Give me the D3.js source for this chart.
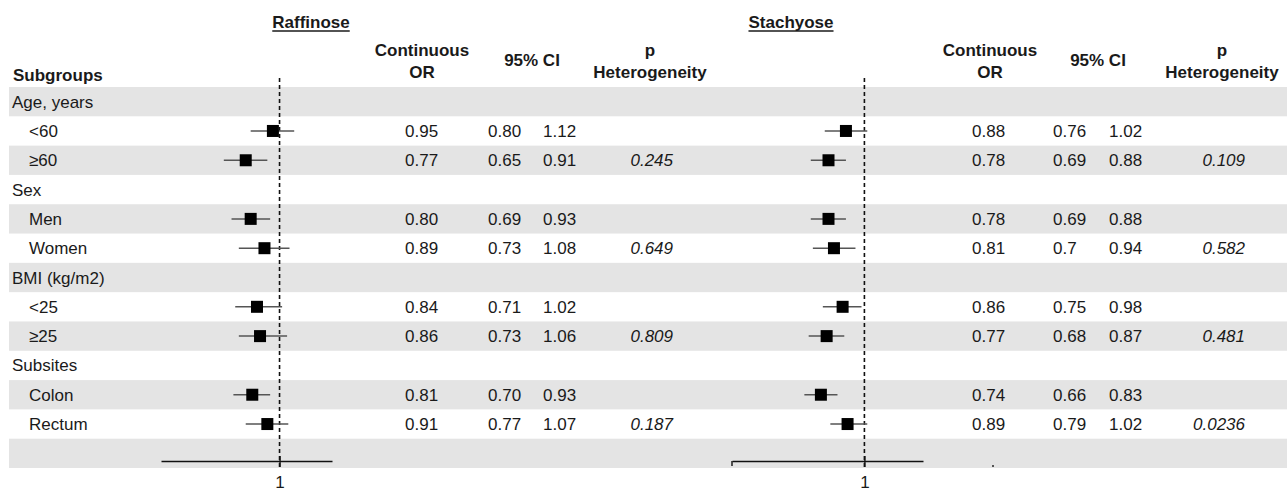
<!DOCTYPE html>
<html>
<head>
<meta charset="utf-8">
<script src="https://cdn.jsdelivr.net/npm/d3@7"></script>
<style>
  html, body { margin: 0; padding: 0; background: #fff; }
  svg text { font-family: "Liberation Sans", Arial, sans-serif; fill: #1a1a1a; }
</style>
</head>
<body>
<svg id="chart" width="1287" height="492"></svg>
<script>
// ---------- data ----------
const rowLabels = ["Age, years", "<60", "\u226560", "Sex", "Men", "Women", "BMI (kg/m2)", "<25", "\u226525", "Subsites", "Colon", "Rectum", ""];
const rowIsGroup = [true, false, false, true, false, false, true, false, false, true, false, false, false];
const subgroupRows = [1, 2, 4, 5, 7, 8, 10, 11];

const panels = ["Raffinose", "Stachyose"];

const raffOR = ["0.95", "0.77", "0.80", "0.89", "0.84", "0.86", "0.81", "0.91"];
const raffLo = ["0.80", "0.65", "0.69", "0.73", "0.71", "0.73", "0.70", "0.77"];
const raffHi = ["1.12", "0.91", "0.93", "1.08", "1.02", "1.06", "0.93", "1.07"];
const raffP  = ["", "0.245", "", "0.649", "", "0.809", "", "0.187"];

const stachOR = ["0.88", "0.78", "0.78", "0.81", "0.86", "0.77", "0.74", "0.89"];
const stachLo = ["0.76", "0.69", "0.69", "0.7", "0.75", "0.68", "0.66", "0.79"];
const stachHi = ["1.02", "0.88", "0.88", "0.94", "0.98", "0.87", "0.83", "1.02"];
const stachP  = ["", "0.109", "", "0.582", "", "0.481", "", "0.0236"];

const axisDomain = [0.4, 1.5];
const refValue = 1;
const tickValues = [1];

// ---------- layout ----------
const W = 1287, H = 492;
const svg = d3.select("#chart");
const fontSize = 17;

const y = d3.scaleBand().domain(d3.range(rowLabels.length)).range([87, 468]);
const yc = i => y(i) + y.bandwidth() / 2;

// shaded bands (even rows)
svg.append("g").selectAll("rect")
  .data(d3.range(rowLabels.length).filter(i => i % 2 === 0))
  .join("rect")
  .attr("x", 9).attr("width", W - 9)
  .attr("y", i => y(i)).attr("height", y.bandwidth())
  .attr("fill", "#e4e4e4");

// row labels
svg.append("g").selectAll("text")
  .data(rowLabels.map((t, i) => ({ t, i })))
  .join("text")
  .attr("x", d => rowIsGroup[d.i] ? 12 : 29)
  .attr("y", d => yc(d.i) + 6)
  .attr("font-size", fontSize)
  .text(d => d.t);

svg.append("text").attr("x", 13).attr("y", 81)
  .attr("font-size", fontSize).attr("font-weight", "bold").text("Subgroups");

const panelCfg = [
  { name: panels[0], or: raffOR, lo: raffLo, hi: raffHi, p: raffP,
    range: [161, 332], titleX: 311,
    orX: 405, loX: 488, hiX: 543, pX: 673,
    hOR: 422, hCI: 532, hP: 650, leftTick: false },
  { name: panels[1], or: stachOR, lo: stachLo, hi: stachHi, p: stachP,
    range: [732, 923], titleX: 791,
    orX: 972, loX: 1053, hiX: 1109, pX: 1245,
    hOR: 990, hCI: 1098, hP: 1222, leftTick: true }
];

panelCfg.forEach(cfg => {
  const g = svg.append("g");
  const x = d3.scaleLog().domain(axisDomain).range(cfg.range);

  // title underlined
  const title = g.append("text").attr("x", cfg.titleX).attr("y", 28)
    .attr("text-anchor", "middle").attr("font-size", fontSize).attr("font-weight", "bold")
    .text(cfg.name);
  const tw = title.node().getComputedTextLength();
  g.append("line").attr("x1", cfg.titleX - tw / 2).attr("x2", cfg.titleX + tw / 2)
    .attr("y1", 31).attr("y2", 31).attr("stroke", "#1a1a1a").attr("stroke-width", 1.3);

  // column headers
  const hdr = (tx, ty, s) => g.append("text").attr("x", tx).attr("y", ty)
    .attr("text-anchor", "middle").attr("font-size", fontSize).attr("font-weight", "bold").text(s);
  hdr(cfg.hOR, 56, "Continuous");
  hdr(cfg.hOR, 78, "OR");
  hdr(cfg.hCI, 66, "95% CI");
  hdr(cfg.hP, 56, "p");
  hdr(cfg.hP, 78, "Heterogeneity");

  // reference dashed line
  g.append("line")
    .attr("x1", x(refValue)).attr("x2", x(refValue))
    .attr("y1", 78).attr("y2", 468)
    .attr("stroke", "#111").attr("stroke-width", 1.6).attr("stroke-dasharray", "4,3");

  // axis
  const axisY = 461;
  const axis = d3.axisBottom(x).tickValues(tickValues).tickFormat(d3.format("d"))
    .tickSizeOuter(0).tickSizeInner(6).tickPadding(9);
  const ag = g.append("g").attr("transform", `translate(0,${axisY})`).call(axis);
  ag.select(".domain").attr("stroke", "#111").attr("stroke-width", 1.6);
  ag.selectAll(".tick line").attr("y1", -5).attr("y2", 6).attr("stroke", "#111").attr("stroke-width", 1.4);
  ag.selectAll(".tick text").attr("font-size", fontSize)
    .attr("font-family", "Liberation Sans, Arial, sans-serif").attr("fill", "#1a1a1a");
  if (cfg.leftTick) {
    g.append("line").attr("x1", x(axisDomain[0])).attr("x2", x(axisDomain[0]))
      .attr("y1", axisY).attr("y2", axisY + 5).attr("stroke", "#111").attr("stroke-width", 1.4);
    g.append("rect").attr("x", 992).attr("y", 465).attr("width", 2).attr("height", 2).attr("fill", "#555");
  }

  const rows = subgroupRows.map((r, k) => ({
    r, or: +cfg.or[k], lo: +cfg.lo[k], hi: +cfg.hi[k],
    orS: cfg.or[k], loS: cfg.lo[k], hiS: cfg.hi[k], pS: cfg.p[k]
  }));

  // CI lines
  g.append("g").selectAll("line").data(rows).join("line")
    .attr("x1", d => x(d.lo)).attr("x2", d => x(d.hi))
    .attr("y1", d => yc(d.r)).attr("y2", d => yc(d.r))
    .attr("stroke", "#555").attr("stroke-width", 1.5);

  // squares
  const s = 12;
  g.append("g").selectAll("rect").data(rows).join("rect")
    .attr("x", d => x(d.or) - s / 2).attr("y", d => yc(d.r) - s / 2)
    .attr("width", s).attr("height", s).attr("fill", "#000");

  // value columns
  const col = (key, xx, anchor, italic) => g.append("g").selectAll("text").data(rows).join("text")
    .attr("x", xx).attr("y", d => yc(d.r) + 6)
    .attr("text-anchor", anchor)
    .attr("font-size", fontSize)
    .attr("font-style", italic ? "italic" : "normal")
    .text(d => d[key]);
  col("orS", cfg.orX, "start", false);
  col("loS", cfg.loX, "start", false);
  col("hiS", cfg.hiX, "start", false);
  col("pS", cfg.pX, "end", true);
});
</script>
</body>
</html>
